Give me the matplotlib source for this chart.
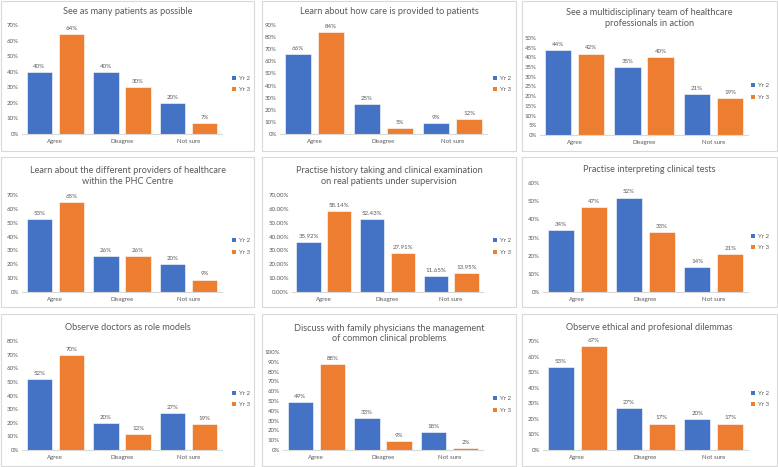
import matplotlib
matplotlib.use("Agg")
import matplotlib.pyplot as plt
from matplotlib.patches import Patch, Rectangle
from matplotlib.ticker import FuncFormatter, MultipleLocator

plt.rcParams['font.family'] = ['Lato', 'DejaVu Sans']

categories = ["Agree", "Disagree", "Not sure"]
series_names = ["Yr 2", "Yr 3"]

titles = [
    "See as many patients as possible",
    "Learn about how care is provided to patients",
    "See a multidisciplinary team of healthcare\nprofessionals in action",
    "Learn about the different providers of healthcare\nwithin the PHC Centre",
    "Practise history taking and clinical examination\non real patients under supervision",
    "Practise interpreting clinical tests",
    "Observe doctors as role models",
    "Discuss with family physicians the management\nof common clinical problems",
    "Observe ethical and profesional dilemmas",
]

yr2 = [
    [40, 40, 20],
    [66, 25, 9],
    [44, 35, 21],
    [53, 26, 20],
    [35.92, 52.43, 11.65],
    [34, 52, 14],
    [52, 20, 27],
    [49, 33, 18],
    [53, 27, 20],
]
yr3 = [
    [64, 30, 7],
    [84, 5, 12],
    [42, 40, 19],
    [65, 26, 9],
    [58.14, 27.91, 13.95],
    [47, 33, 21],
    [70, 12, 19],
    [88, 9, 2],
    [67, 17, 17],
]
y_max = [70, 90, 50, 70, 70, 60, 80, 100, 70]
y_step = [10, 10, 5, 10, 10, 10, 10, 10, 10]
decimals = [0, 0, 0, 0, 2, 0, 0, 0, 0]

# ---- layout (pixels) ----
W, H = 778, 467
BLUE = "#4472C4"
ORANGE = "#ED7D31"
GRAY = "#595959"
LIGHT = "#D9D9D9"

plot_boxes = [  # left, right, top, bottom
    (22, 222, 25, 134), (280, 487, 25, 134), (540, 748, 38, 135),
    (22, 222, 195, 292), (292, 483, 195, 292), (543, 748, 183, 292),
    (22, 222, 341, 450), (283, 483, 352, 450), (543, 748, 341, 450),
]
legend_x = [232, 493, 751]
legend_yc = [84, 84, 91.5, 246.5, 246.5, 242, 399, 404.5, 399]
col_x = [(1, 254), (262, 516), (522, 777)]
row_y = [(1, 151), (157, 307), (314, 466)]
title_yc = [12, 12, 18, 176, 176, 170, 327, 333.5, 327]

fig = plt.figure(figsize=(W / 100, H / 100), dpi=100)
fig.patch.set_facecolor("white")

# panel borders
for (x0, x1) in col_x:
    for (y0, y1) in row_y:
        fig.add_artist(Rectangle((x0 / W, 1 - y1 / H), (x1 - x0) / W, (y1 - y0) / H,
                                 transform=fig.transFigure, fill=False,
                                 edgecolor=LIGHT, linewidth=0.8))

fs = 4.4
width = 0.38
off = 0.24
for i in range(9):
    l, r, t, b = plot_boxes[i]
    ax = fig.add_axes([l / W, 1 - b / H, (r - l) / W, (b - t) / H])
    xs = list(range(len(categories)))
    b2 = ax.bar([x - off for x in xs], yr2[i], width, color=BLUE,
                edgecolor="white", linewidth=0.4, label=series_names[0])
    b3 = ax.bar([x + off for x in xs], yr3[i], width, color=ORANGE,
                edgecolor="white", linewidth=0.4, label=series_names[1])
    d = decimals[i]
    fmt = "{:.%df}%%" % d
    for bars, vals in ((b2, yr2[i]), (b3, yr3[i])):
        for rect, v in zip(bars, vals):
            ax.annotate(fmt.format(v), (rect.get_x() + rect.get_width() / 2, v),
                        xytext=(0, 2.2), textcoords="offset points",
                        ha="center", va="bottom", fontsize=fs, color=GRAY)
    ax.set_xlim(-0.5, 2.5)
    ax.set_ylim(0, y_max[i])
    ax.yaxis.set_major_locator(MultipleLocator(y_step[i]))
    ax.yaxis.set_major_formatter(FuncFormatter(lambda v, p, d=d: ("{:.%df}%%" % d).format(v)))
    ax.set_xticks(xs)
    ax.set_xticklabels(categories)
    ax.tick_params(axis="both", length=0, labelsize=fs, colors=GRAY)
    ax.tick_params(axis="x", pad=3.6)
    ax.tick_params(axis="y", pad=2.2)
    for s in ("top", "right", "left"):
        ax.spines[s].set_visible(False)
    ax.spines["bottom"].set_color(LIGHT)
    ax.spines["bottom"].set_linewidth(0.8)
    ax.set_facecolor("none")

    col = i % 3
    handles = [Patch(facecolor=BLUE), Patch(facecolor=ORANGE)]
    ax.legend(handles, series_names, loc="center left",
              bbox_to_anchor=(legend_x[col] / W, 1 - legend_yc[i] / H),
              bbox_transform=fig.transFigure, frameon=False, fontsize=fs,
              handlelength=0.7, handleheight=0.7, handletextpad=0.5,
              labelspacing=1.0, borderpad=0, borderaxespad=0, labelcolor=GRAY)

    cx = (col_x[col][0] + col_x[col][1]) / 2
    fig.text(cx / W, 1 - title_yc[i] / H, titles[i], ha="center", va="center",
             fontsize=6.6, color=GRAY, linespacing=1.2)

fig.savefig("out.png", dpi=100)
